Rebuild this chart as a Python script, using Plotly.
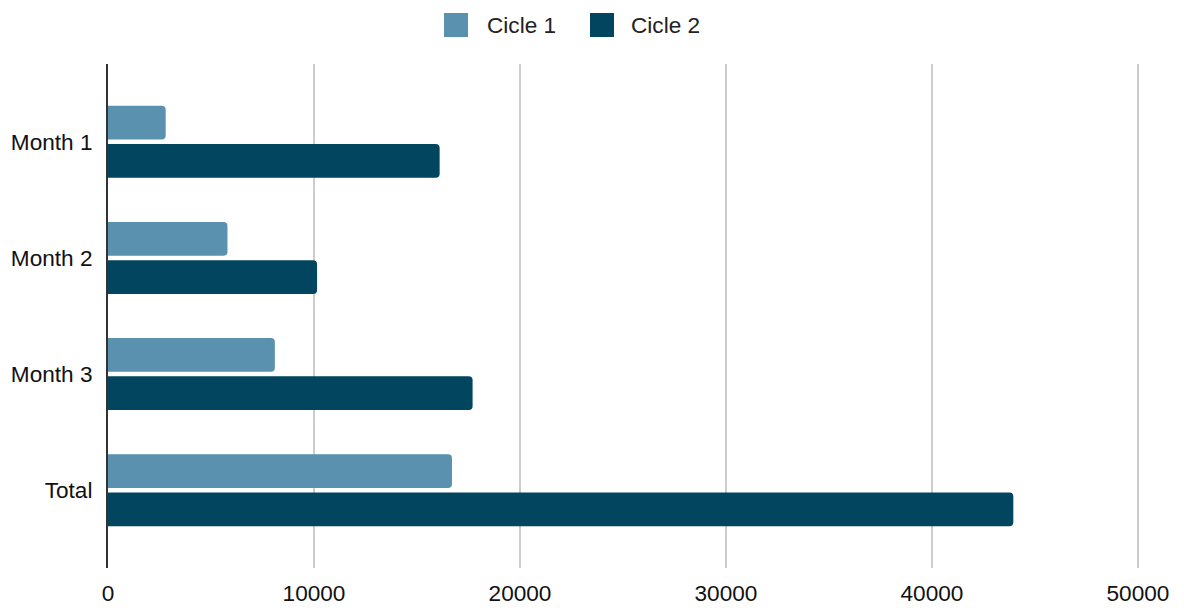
import plotly.graph_objects as go

# Chart data
categories = ["Month 1", "Month 2", "Month 3", "Total"]
cicle1 = [2800, 5800, 8100, 16700]
cicle2 = [16100, 10150, 17700, 43950]
series_names = ["Cicle 1", "Cicle 2"]
x_ticks = [0, 10000, 20000, 30000, 40000, 50000]

colors = ["#5a91ae", "#02455f"]
font_family = "Liberation Sans, Arial, sans-serif"
font_size = 22.6

W, H = 1184, 610
L, R, T, B = 108, 44, 64, 42
pw, ph = W - L - R, H - T - B

fig = go.Figure()
for name, vals, col in zip(series_names, [cicle1, cicle2], colors):
    fig.add_trace(go.Bar(
        y=categories, x=vals, name=name, orientation="h",
        marker=dict(color=col, line=dict(width=0)),
        showlegend=False,
    ))

# Custom legend: square swatches with labels across the top
def px_x(p):
    return (p - L) / pw

def px_y(p):
    return (H - B - p) / ph

legend_items = [(444, 485), (590, 629)]
for (sx, tx), name, col in zip(legend_items, series_names, colors):
    fig.add_shape(type="rect", xref="paper", yref="paper",
                  x0=px_x(sx), x1=px_x(sx + 24), y0=px_y(37), y1=px_y(13),
                  fillcolor=col, line=dict(width=0))
    fig.add_annotation(xref="paper", yref="paper", x=px_x(tx), y=px_y(25),
                       text=name, showarrow=False, xanchor="left", yanchor="middle",
                       font=dict(size=font_size, color="#222222", family=font_family))

fig.update_layout(
    width=W, height=H,
    margin=dict(l=L, r=R, t=T, b=B),
    paper_bgcolor="white", plot_bgcolor="white",
    barmode="group", bargap=0.34, bargroupgap=0.12,
    barcornerradius=4,
    font=dict(family=font_family, size=font_size, color="#111111"),
)
fig.update_xaxes(
    range=[0, 50100], tickvals=x_ticks, ticktext=[str(v) for v in x_ticks],
    showgrid=True, gridcolor="#cccccc", gridwidth=2,
    zeroline=False, showline=False, ticks="",
    ticklabelstandoff=9, automargin=False,
)
fig.update_yaxes(
    categoryorder="array", categoryarray=categories,
    range=[3.67, -0.67],
    showgrid=False, zeroline=False,
    showline=True, linecolor="#333333", linewidth=2,
    ticks="", ticklabelstandoff=9, automargin=False,
)

fig.write_html("out.html")
